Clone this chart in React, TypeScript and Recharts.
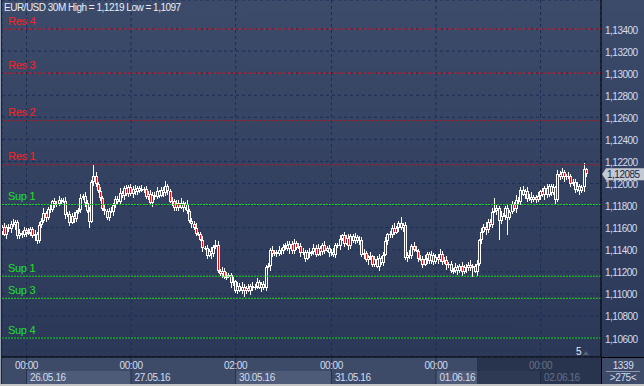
import { ComposedChart, Bar, XAxis, YAxis, CartesianGrid, ReferenceLine } from "recharts";

// prices are stored as 1e-5 steps above 1.10000
const BASE = 1.1;

const opens = [
  1560, 1605, 1535, 1605, 1585, 1635, 1620, 1650, 1520, 1555,
  1530, 1575, 1550, 1555, 1590, 1520, 1545, 1480, 1625, 1660,
  1735, 1690, 1770, 1760, 1840, 1815, 1815, 1850, 1835, 1845,
  1715, 1725, 1645, 1705, 1680, 1740, 1760, 1870, 1890, 1825,
  1750, 1655, 2015, 2070, 1995, 1935, 1865, 1770, 1750, 1690,
  1755, 1745, 1805, 1860, 1835, 1915, 1885, 1955, 1905, 1970,
  1905, 1950, 1920, 1955, 1935, 1950, 1950, 1880, 1905, 1825,
  1900, 1880, 1930, 1890, 1940, 1910, 1980, 1930, 1835, 1845,
  1775, 1825, 1780, 1825, 1780, 1815, 1750, 1660, 1635, 1600,
  1545, 1545, 1490, 1415, 1415, 1345, 1385, 1360, 1425, 1440,
  1210, 1180, 1210, 1155, 1155, 1170, 1095, 1115, 1025, 1075,
  1030, 1065, 1030, 1055, 1030, 1075, 1055, 1065, 1105, 1055,
  1085, 1055, 1245, 1250, 1395, 1360, 1380, 1360, 1400, 1385,
  1425, 1440, 1405, 1455, 1385, 1465, 1420, 1435, 1370, 1380,
  1320, 1380, 1365, 1375, 1420, 1355, 1415, 1375, 1445, 1390,
  1415, 1370, 1380, 1350, 1440, 1435, 1495, 1530, 1455, 1505,
  1435, 1525, 1480, 1515, 1480, 1490, 1350, 1370, 1305, 1335,
  1340, 1265, 1315, 1245, 1325, 1280, 1355, 1480, 1540, 1530,
  1600, 1555, 1595, 1640, 1595, 1625, 1325, 1355, 1340, 1435,
  1400, 1390, 1320, 1320, 1265, 1315, 1360, 1295, 1355, 1285,
  1335, 1310, 1365, 1290, 1310, 1260, 1270, 1205, 1205, 1240,
  1205, 1255, 1195, 1245, 1230, 1265, 1230, 1250, 1200, 1270,
  1485, 1565, 1610, 1575, 1655, 1625, 1745, 1750, 1775, 1660,
  1710, 1710, 1780, 1685, 1745, 1810, 1765, 1855, 1835, 1945,
  1900, 1935, 1860, 1880, 1850, 1880, 1855, 1885, 1930, 1895,
  1955, 1895, 1975, 1910, 1965, 1850, 2090, 2060, 2100, 2055,
  2065, 2070, 1995, 2015, 1945, 1975, 1930, 1965, 2130,
];

const highs = [
  1625, 1640, 1620, 1635, 1660, 1675, 1670, 1670, 1590, 1570,
  1605, 1600, 1595, 1610, 1610, 1580, 1560, 1655, 1685, 1775,
  1755, 1790, 1805, 1855, 1870, 1840, 1890, 1870, 1865, 1880,
  1740, 1755, 1730, 1745, 1760, 1780, 1905, 1905, 1920, 1850,
  1790, 2035, 2170, 2105, 2010, 1965, 1890, 1810, 1770, 1775,
  1790, 1820, 1890, 1885, 1955, 1935, 1975, 1990, 1985, 2000,
  1975, 1990, 1975, 1975, 1985, 1965, 1980, 1930, 1945, 1920,
  1920, 1965, 1945, 1970, 1965, 2020, 2000, 1950, 1880, 1860,
  1855, 1850, 1865, 1845, 1835, 1850, 1765, 1690, 1660, 1640,
  1565, 1565, 1525, 1430, 1445, 1410, 1425, 1445, 1490, 1475,
  1225, 1240, 1235, 1195, 1190, 1190, 1150, 1130, 1105, 1100,
  1105, 1085, 1075, 1090, 1090, 1105, 1090, 1145, 1125, 1105,
  1120, 1260, 1280, 1420, 1435, 1400, 1400, 1435, 1415, 1455,
  1465, 1480, 1475, 1475, 1500, 1480, 1465, 1460, 1420, 1400,
  1400, 1415, 1390, 1450, 1445, 1455, 1435, 1465, 1480, 1430,
  1445, 1405, 1420, 1460, 1460, 1530, 1545, 1560, 1530, 1545,
  1545, 1545, 1550, 1530, 1520, 1515, 1410, 1390, 1355, 1375,
  1355, 1345, 1340, 1365, 1345, 1375, 1515, 1555, 1570, 1625,
  1640, 1615, 1660, 1700, 1640, 1655, 1380, 1395, 1455, 1470,
  1435, 1405, 1350, 1345, 1355, 1380, 1380, 1390, 1370, 1365,
  1360, 1405, 1385, 1330, 1345, 1285, 1300, 1230, 1280, 1260,
  1275, 1290, 1260, 1275, 1290, 1305, 1270, 1270, 1305, 1500,
  1595, 1635, 1650, 1675, 1675, 1780, 1870, 1805, 1800, 1750,
  1730, 1800, 1815, 1760, 1840, 1835, 1895, 1875, 1965, 1980,
  1950, 1965, 1905, 1920, 1900, 1900, 1920, 1945, 1960, 1980,
  1995, 1995, 1995, 2000, 1980, 2120, 2115, 2140, 2120, 2085,
  2105, 2085, 2045, 2040, 2015, 1995, 1985, 2190, 2145,
];

const lows = [
  1535, 1520, 1500, 1565, 1555, 1605, 1580, 1495, 1500, 1505,
  1515, 1515, 1530, 1525, 1505, 1480, 1455, 1460, 1600, 1645,
  1655, 1670, 1730, 1745, 1775, 1790, 1795, 1810, 1820, 1680,
  1695, 1615, 1630, 1640, 1655, 1720, 1735, 1855, 1790, 1730,
  1600, 1640, 1975, 1970, 1915, 1840, 1755, 1715, 1670, 1660,
  1730, 1705, 1780, 1815, 1810, 1870, 1850, 1885, 1875, 1890,
  1865, 1895, 1900, 1910, 1920, 1915, 1860, 1850, 1810, 1785,
  1855, 1860, 1865, 1875, 1875, 1890, 1900, 1820, 1795, 1750,
  1755, 1755, 1765, 1745, 1760, 1720, 1645, 1595, 1575, 1525,
  1520, 1475, 1380, 1395, 1315, 1330, 1320, 1335, 1405, 1185,
  1165, 1145, 1135, 1125, 1140, 1055, 1070, 1005, 1000, 1015,
  995, 970, 1000, 1015, 990, 1030, 1035, 1040, 1040, 1020,
  1035, 1025, 1230, 1210, 1335, 1340, 1335, 1345, 1350, 1365,
  1395, 1390, 1365, 1360, 1365, 1395, 1405, 1335, 1350, 1290,
  1305, 1325, 1340, 1355, 1330, 1340, 1340, 1355, 1360, 1375,
  1330, 1345, 1330, 1325, 1420, 1400, 1475, 1425, 1440, 1395,
  1410, 1460, 1455, 1465, 1445, 1330, 1320, 1290, 1265, 1310,
  1245, 1240, 1230, 1210, 1260, 1250, 1340, 1440, 1505, 1510,
  1530, 1540, 1560, 1575, 1565, 1310, 1285, 1315, 1320, 1375,
  1375, 1285, 1300, 1235, 1250, 1275, 1270, 1275, 1260, 1270,
  1275, 1290, 1260, 1275, 1220, 1235, 1185, 1180, 1190, 1170,
  1185, 1165, 1180, 1190, 1205, 1210, 1150, 1185, 1165, 1250,
  1455, 1550, 1535, 1550, 1605, 1600, 1730, 1715, 1490, 1630,
  1695, 1670, 1530, 1665, 1720, 1750, 1730, 1815, 1805, 1885,
  1860, 1835, 1840, 1825, 1835, 1820, 1835, 1855, 1880, 1855,
  1870, 1875, 1885, 1895, 1815, 1830, 2030, 2045, 2015, 2030,
  2045, 1970, 1980, 1910, 1925, 1900, 1915, 1925, 2060,
];

const closes = [
  1605, 1535, 1605, 1585, 1635, 1620, 1650, 1520, 1555, 1530,
  1575, 1550, 1555, 1590, 1520, 1545, 1480, 1625, 1660, 1735,
  1690, 1770, 1760, 1840, 1815, 1815, 1850, 1835, 1845, 1715,
  1725, 1645, 1705, 1680, 1740, 1760, 1870, 1890, 1825, 1750,
  1655, 2015, 2070, 1995, 1935, 1865, 1770, 1750, 1690, 1755,
  1745, 1805, 1860, 1835, 1915, 1885, 1955, 1905, 1970, 1905,
  1950, 1920, 1955, 1935, 1950, 1950, 1880, 1905, 1825, 1900,
  1880, 1930, 1890, 1940, 1910, 1980, 1930, 1835, 1845, 1775,
  1825, 1780, 1825, 1780, 1815, 1750, 1660, 1635, 1600, 1545,
  1545, 1490, 1415, 1415, 1345, 1385, 1360, 1425, 1440, 1210,
  1180, 1210, 1155, 1155, 1170, 1095, 1115, 1025, 1075, 1030,
  1065, 1030, 1055, 1030, 1075, 1055, 1065, 1105, 1055, 1085,
  1055, 1245, 1250, 1395, 1360, 1380, 1360, 1400, 1385, 1425,
  1440, 1405, 1455, 1385, 1465, 1420, 1435, 1370, 1380, 1320,
  1380, 1365, 1375, 1420, 1355, 1415, 1375, 1445, 1390, 1415,
  1370, 1380, 1350, 1440, 1435, 1495, 1530, 1455, 1505, 1435,
  1525, 1480, 1515, 1480, 1490, 1350, 1370, 1305, 1335, 1340,
  1265, 1315, 1245, 1325, 1280, 1355, 1480, 1540, 1530, 1600,
  1555, 1595, 1640, 1595, 1625, 1325, 1355, 1340, 1435, 1400,
  1390, 1320, 1320, 1265, 1315, 1360, 1295, 1355, 1285, 1335,
  1310, 1365, 1290, 1310, 1260, 1270, 1205, 1205, 1240, 1205,
  1255, 1195, 1245, 1230, 1265, 1230, 1250, 1200, 1270, 1485,
  1565, 1610, 1575, 1655, 1625, 1745, 1750, 1775, 1660, 1710,
  1710, 1780, 1685, 1745, 1810, 1765, 1855, 1835, 1945, 1900,
  1935, 1860, 1880, 1850, 1880, 1855, 1885, 1930, 1895, 1955,
  1895, 1975, 1910, 1965, 1850, 2090, 2060, 2100, 2055, 2065,
  2070, 1995, 2015, 1945, 1975, 1930, 1965, 2130, 2085,
];

const dayTicks = [11, 59, 107, 151, 199, 247];
const timeLabels = ["00:00", "00:00", "02:00", "00:00", "00:00", "00:00"];
const dateLabels = ["26.05.16", "27.05.16", "30.05.16", "31.05.16", "01.06.16", "02.06.16"];

const priceTicks = [
  1.106, 1.108, 1.11, 1.112, 1.114, 1.116, 1.118, 1.12, 1.122, 1.124, 1.126, 1.128, 1.13, 1.132,
  1.134,
];

const resNames = ["Res 4", "Res 3", "Res 2", "Res 1"];
const resValues = [1.134, 1.13, 1.1257, 1.1217];
const supNames = ["Sup 1", "Sup 1", "Sup 3", "Sup 4"];
const supValues = [1.1181, 1.1116, 1.1096, 1.106];

const TITLE = "EUR/USD 30M High = 1,1219 Low = 1,1097";

const W = 644;
const H = 386;
const PLOT_LEFT = 2;
const Y_AXIS_W = 43;
const X_AXIS_H = 29;
const PLOT_RIGHT = W - Y_AXIS_W;
const PLOT_BOTTOM = H - X_AXIS_H;
const X_DOMAIN: [number, number] = [-0.25, 274.75];
const Y_DOMAIN: [number, number] = [1.10428, 1.13663];
const PX_PER_BAR = (PLOT_RIGHT - PLOT_LEFT) / (X_DOMAIN[1] - X_DOMAIN[0]);

const FONT = "'Liberation Sans', Arial, sans-serif";
const AXIS_TEXT = "#d3ddef";
const RES_COLOR = "#ff1e1e";
const SUP_COLOR = "#1ee01e";

const candles = closes.map((c, i) => {
  const l = BASE + lows[i] / 1e5;
  const h = BASE + highs[i] / 1e5;
  return { i, o: BASE + opens[i] / 1e5, h, l, c: BASE + c / 1e5, range: [l, h] };
});
const lastClose = candles[candles.length - 1].c;

const fmt = (v: number) => v.toFixed(5).replace(".", ",");

function Candle(props: any) {
  const { x, y, width, height, payload } = props;
  if (!payload || height == null) return null;
  const { o, h, l, c } = payload;
  const k = height / (h - l || 1e-9);
  const cx = Math.floor(x + width / 2);
  const yHigh = Math.round(y);
  const yLow = Math.round(y + height);
  const bodyTop = Math.round(y + (h - Math.max(o, c)) * k);
  const bodyBot = Math.max(bodyTop + 1, Math.round(y + (h - Math.min(o, c)) * k));
  const bear = c < o;
  return (
    <g shapeRendering="crispEdges">
      {bodyTop > yHigh && <rect x={cx} y={yHigh} width={1} height={bodyTop - yHigh} fill="#fff" />}
      {yLow > bodyBot && <rect x={cx} y={bodyBot} width={1} height={yLow - bodyBot} fill="#fff" />}
      {bodyBot - bodyTop >= 3 ? (
        <rect
          x={cx - 0.5}
          y={bodyTop + 0.5}
          width={2}
          height={bodyBot - bodyTop - 1}
          fill={bear ? "#ff0000" : "none"}
          stroke="#fff"
          strokeWidth={1}
        />
      ) : (
        <rect x={cx - 1} y={bodyTop} width={3} height={bodyBot - bodyTop} fill="#fff" />
      )}
    </g>
  );
}

function DayTick(props: any) {
  const { x, payload } = props;
  const k = dayTicks.indexOf(payload.value);
  if (k < 0) return null;
  const next = k + 1 < dayTicks.length ? x + (dayTicks[k + 1] - dayTicks[k]) * PX_PER_BAR : PLOT_RIGHT;
  return (
    <g>
      {k % 2 === 0 && <rect x={x} y={371} width={next - x} height={13} fill="#4d5b79" />}
      <line x1={x} x2={x} y1={PLOT_BOTTOM + 1} y2={384} stroke="#25304c" />
      <text x={x} y={369} textAnchor="middle" fill={AXIS_TEXT} fontSize={10} fontFamily={FONT} letterSpacing={-0.4}>
        {timeLabels[k]}
      </text>
      <text x={x + 3.5} y={381} fill={AXIS_TEXT} fontSize={10} fontFamily={FONT} letterSpacing={-0.4}>
        {dateLabels[k]}
      </text>
    </g>
  );
}

function PriceTick(props: any) {
  const { x, y, payload } = props;
  return (
    <text x={x} y={y + 4.5} fill={AXIS_TEXT} fontSize={10} fontFamily={FONT} letterSpacing={-0.5}>
      {fmt(payload.value)}
    </text>
  );
}

const levelLabel = (text: string, color: string) => (p: any) => {
  const vb = p.viewBox;
  if (!vb) return null;
  return (
    <text x={vb.x + 6} y={vb.y - 4.5} fill={color} fontSize={11} fontFamily={FONT} letterSpacing={-0.3}>
      {text}
    </text>
  );
};

const priceBadge = (p: any) => {
  const vb = p.viewBox;
  if (!vb) return null;
  const xr = vb.x + vb.width;
  const yc = vb.y;
  return (
    <g>
      <path
        d={`M${xr + 1},${yc} L${xr + 5},${yc - 6} L${W},${yc - 6} L${W},${yc + 6} L${xr + 5},${yc + 6} Z`}
        fill="#c3c8d2"
      />
      <text x={xr + 6} y={yc + 4} fill="#1c2540" fontSize={10} fontFamily={FONT} letterSpacing={-0.5}>
        {fmt(lastClose)}
      </text>
    </g>
  );
};

export default function App() {
  return (
    <div style={{ position: "absolute", left: 0, top: 0, width: W, height: H, overflow: "hidden", fontFamily: FONT }}>
      <div
        style={{
          position: "absolute",
          left: 0,
          top: 0,
          width: W,
          height: PLOT_BOTTOM,
          background: "linear-gradient(#3d4b6b, #2b3858)",
        }}
      />
      <div style={{ position: "absolute", left: 0, top: PLOT_BOTTOM, width: W, height: X_AXIS_H, background: "#3d4a68" }} />
      <div style={{ position: "absolute", left: 0, top: 0 }}>
        <ComposedChart
          width={W}
          height={H}
          data={candles}
          margin={{ top: 0, right: 0, bottom: 0, left: PLOT_LEFT }}
        >
          <CartesianGrid stroke="#1b2d55" strokeDasharray="3 3" />
          <XAxis
            dataKey="i"
            type="number"
            domain={X_DOMAIN}
            allowDataOverflow
            ticks={dayTicks}
            interval={0}
            height={X_AXIS_H}
            axisLine={{ stroke: "#000" }}
            tickLine={false}
            tick={<DayTick />}
          />
          <YAxis
            orientation="right"
            type="number"
            domain={Y_DOMAIN}
            allowDataOverflow
            ticks={priceTicks}
            interval={0}
            width={Y_AXIS_W}
            axisLine={{ stroke: "#000" }}
            tickLine={false}
            tickSize={2}
            tickMargin={2}
            tick={<PriceTick />}
          />
          {resValues.map((v, k) => (
            <ReferenceLine
              key={`r${k}`}
              y={v}
              stroke={k < 2 ? "#ec1616" : "#c41414"}
              strokeDasharray={k < 2 ? "3 2" : "2 2"}
              label={levelLabel(resNames[k], RES_COLOR)}
            />
          ))}
          {supValues.map((v, k) => (
            <ReferenceLine
              key={`s${k}`}
              y={v}
              stroke="#12dc12"
              strokeDasharray="2 1"
              label={levelLabel(supNames[k], SUP_COLOR)}
            />
          ))}
          <Bar dataKey="range" barSize={2} isAnimationActive={false} shape={(p: any) => <Candle {...p} />} />
          <ReferenceLine y={lastClose} stroke="none" label={priceBadge} />
        </ComposedChart>
      </div>
      <svg width={W} height={H} style={{ position: "absolute", left: 0, top: 0, pointerEvents: "none" }}>
        <rect x={477} y={PLOT_BOTTOM + 1} width={PLOT_RIGHT - 477} height={27} fill="rgba(26,36,60,0.6)" />
        <line x1={PLOT_RIGHT + 0.5} x2={PLOT_RIGHT + 0.5} y1={PLOT_BOTTOM} y2={384} stroke="#000" />
        <line x1={PLOT_RIGHT} x2={W} y1={PLOT_BOTTOM + 0.5} y2={PLOT_BOTTOM + 0.5} stroke="#000" />
        <text x={623} y={369} textAnchor="middle" fill={AXIS_TEXT} fontSize={10} fontFamily={FONT} letterSpacing={-0.4}>
          1339
        </text>
        <line x1={606} x2={640} y1={371.5} y2={371.5} stroke="#8a96b0" />
        <text x={623} y={381} textAnchor="middle" fill={AXIS_TEXT} fontSize={10} fontFamily={FONT} letterSpacing={-0.4}>
          {">275<"}
        </text>
        <text x={576} y={355} fill="#e8eef8" fontSize={10} fontFamily={FONT}>
          5
        </text>
        <path d="M583,355 L586,351 L589,355 Z" fill="#56627e" />
        <text x={4} y={11} fill="#e8edf6" fontSize={10} fontFamily={FONT} letterSpacing={-0.5}>
          {TITLE}
        </text>
        <rect x={0} y={0} width={1} height={384} fill="#9aa2b2" />
        <rect x={1} y={0} width={1} height={384} fill="#1c2540" />
        <rect x={0} y={384} width={W} height={2} fill="#c6c6c6" />
      </svg>
    </div>
  );
}
